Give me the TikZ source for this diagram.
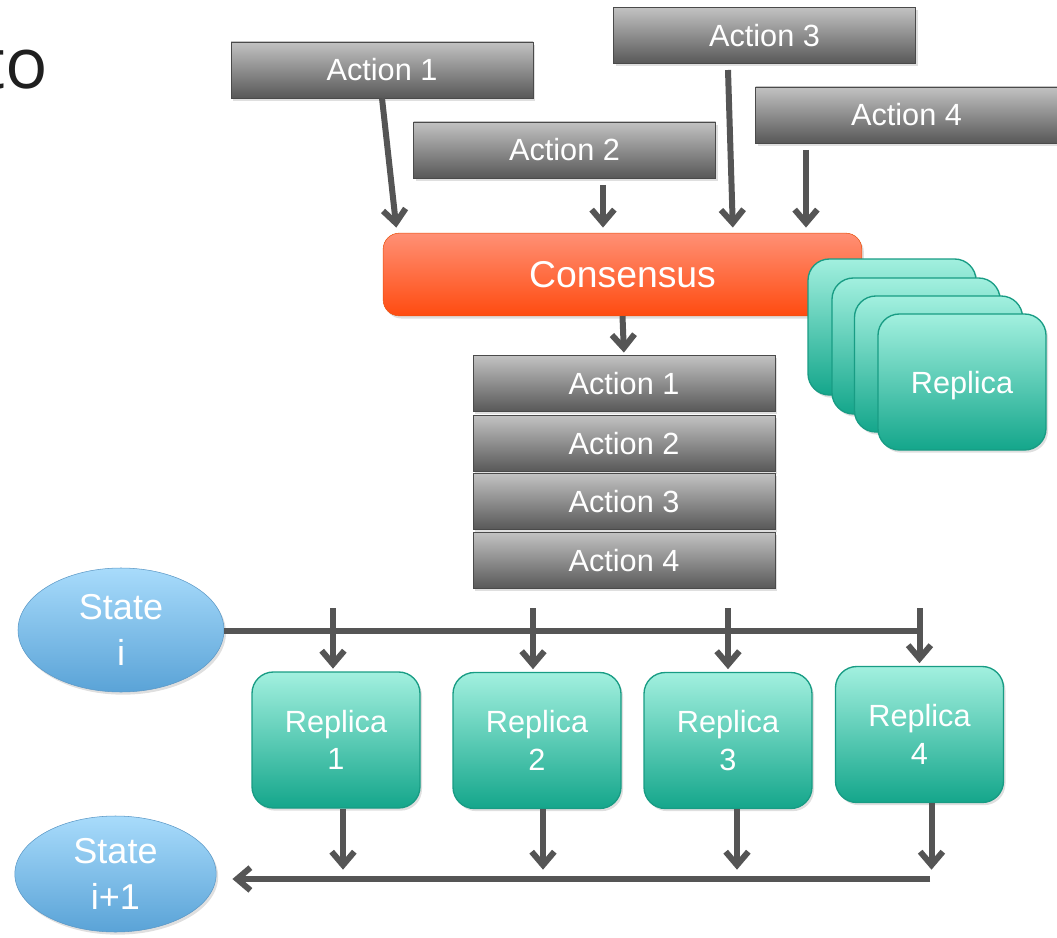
\documentclass[tikz,border=0pt]{standalone}
\usepackage{fontspec}
\setmainfont{Liberation Sans}
\newfontfamily\titlefont{Open Sans}
\usetikzlibrary{calc,shadows,arrows.meta,shapes.geometric}

\definecolor{acttop}{HTML}{C2C2C2}
\definecolor{actbot}{HTML}{585858}
\definecolor{actline}{HTML}{4A4A4A}
\definecolor{constop}{HTML}{FF9075}
\definecolor{consbot}{HTML}{FF4B10}
\definecolor{consline}{HTML}{E8520F}
\definecolor{reptop}{HTML}{A2F0DF}
\definecolor{repbot}{HTML}{14A68B}
\definecolor{repline}{HTML}{189C84}
\definecolor{sttop}{HTML}{A8DBFB}
\definecolor{stbot}{HTML}{5AA3D7}
\definecolor{stline}{HTML}{5B98C6}
\definecolor{arrgray}{HTML}{555555}

\tikzset{
  softshadow/.style={drop shadow={opacity=0.25,shadow xshift=1.5pt,shadow yshift=-2pt}},
  action/.style={draw=actline, top color=acttop, bottom color=actbot, softshadow,
    minimum width=226.5pt, minimum height=42pt, inner sep=0pt,
    text=white, font=\fontsize{23}{28}\selectfont},
  consensus/.style={draw=consline, top color=constop, bottom color=consbot, softshadow,
    rounded corners=12pt, minimum width=359pt, minimum height=62pt,
    text=white, font=\fontsize{28}{34}\selectfont},
  replica/.style={draw=repline, line width=1pt, top color=reptop, bottom color=repbot, softshadow,
    rounded corners=16pt, minimum width=126pt, minimum height=102pt, inner sep=0pt,
    align=center, text=white, font=\fontsize{23}{28}\selectfont},
  state/.style={ellipse, draw=stline, top color=sttop, bottom color=stbot, softshadow,
    inner sep=0pt, align=center, text=white, font=\fontsize{27}{35}\selectfont},
  arr/.style={draw=arrgray, line width=4.5pt, -{Straight Barb[length=10pt,width=17pt]}, shorten >=2pt},
  bus/.style={draw=arrgray, line width=4.5pt}
}

\begin{document}
\begin{tikzpicture}[x=0.75pt,y=-0.75pt]
\useasboundingbox (0,0) rectangle (1057,938);

% title fragment
\node[anchor=base east, inner sep=0pt, text=black!88, font=\titlefont\fontsize{53}{60}\selectfont] (title) at (48,89) {to};

% incoming actions
\node[action] (a1) at (382,70) {Action 1};
\node[action] (a2) at (564.5,150) {Action 2};
\node[action] (a3) at (764.5,35.5) {Action 3};
\node[action] (a4) at (906.5,115) {Action 4};

\node[consensus] (cons) at (622.5,274.5) {Consensus};

\coordinate (a2x) at (603,185);
\coordinate (a3x) at (728,70);
\coordinate (a4x) at (806,150);
\draw[arr, shorten >=4pt] (a1.south) -- ($(cons.north west)+(14,0)$);
\draw[arr, shorten >=4pt] (a2x) -- (a2x |- cons.north);
\draw[arr, shorten >=4pt] (a3x) -- ($(a3x |- cons.north)+(5,0)$);
\draw[arr, shorten >=4pt] (a4x) -- (a4x |- cons.north);

% ordered log
\foreach \i/\y in {1/383.5,2/443.5,3/501.5,4/560.5}
  \node[action] (s\i) at (624,\y) {Action \i};
\draw[arr] (cons.south) -- (s1.north);

% replica stack
\foreach \i/\x/\y in {1/892/327,2/916/346,3/938.5/364}
  \node[replica] (rb\i) at (\x,\y) {};
\node[replica, text depth=-4pt] (rb4) at (962,382) {Replica};

% states and replicas
\node[state, minimum width=154.5pt, minimum height=93pt] (si) at (121,630) {State\\i};
\node[state, minimum width=151pt, minimum height=87pt] (sj) at (115.5,874) {State\\i+1};

\node[replica] (rep1) at (336,740) {Replica\\1};
\node[replica] (rep2) at (537,740.5) {Replica\\2};
\node[replica] (rep3) at (728,740.5) {Replica\\3};
\node[replica] (rep4) at (919.5,734.5) {Replica\\4};

\coordinate (busA) at (922,631);
\coordinate (busB) at (930,879);
\draw[bus] (si.east |- busA) -- (busA);
\foreach \r/\dx in {rep1/-3,rep2/-4,rep3/0,rep4/0}
  \draw[arr] ($(\r.north |- busA)+(\dx,-23)$) -- ($(\r.north)+(\dx,0)$);
\foreach \r/\dx in {rep1/7,rep2/6,rep3/9,rep4/12}
  \draw[arr, shorten >=7pt] ($(\r.south)+(\dx,0)$) -- ($(\r.south |- busB)+(\dx,0)$);
\draw[arr, shorten >=12pt] (busB) -- (busB -| sj.east);

\end{tikzpicture}
\end{document}
